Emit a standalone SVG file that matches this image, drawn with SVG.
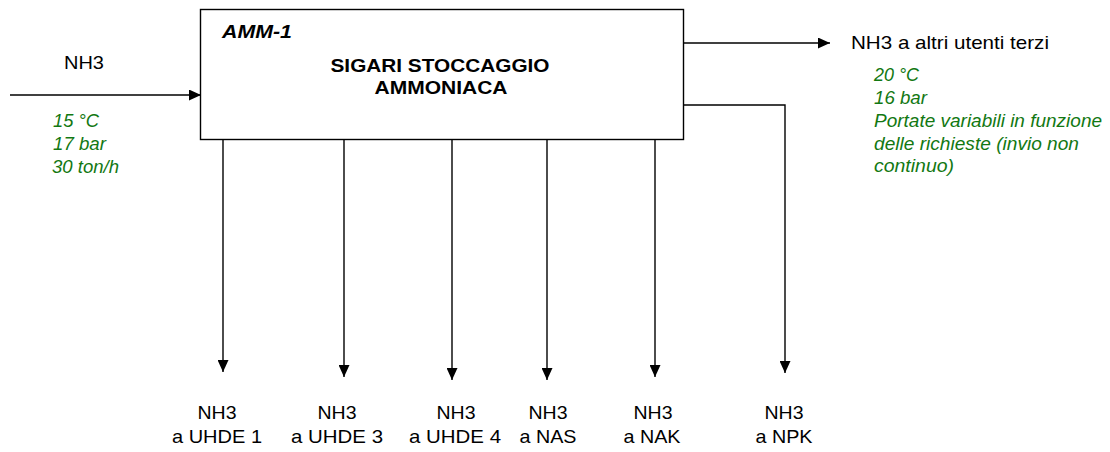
<svg xmlns="http://www.w3.org/2000/svg" width="1110" height="452" viewBox="0 0 1110 452">
<defs>
<marker id="ah" markerWidth="12" markerHeight="11" refX="12" refY="5.5" orient="auto" markerUnits="userSpaceOnUse"><path d="M0,0 L12,5.5 L0,11 Z" fill="#000"/></marker>
</defs>
<style>
.t{font-family:"Liberation Sans",Arial,sans-serif;font-size:19px;fill:#000}
.g{font-family:"Liberation Sans",Arial,sans-serif;font-size:18px;font-style:italic;fill:#127812}
.b{font-weight:bold}
.m{text-anchor:middle}
.c{fill:none;stroke:#000;stroke-width:1.4}
.box{fill:#fff;stroke:#000;stroke-width:1.4}
</style>
<rect width="1110" height="452" fill="#fff"/>
<g id="connectors">
<path class="c" d="M10,95 H201" marker-end="url(#ah)"/>
<path class="c" d="M683.5,43 H830" marker-end="url(#ah)"/>
<path class="c" d="M683.5,105 H785 V373" marker-end="url(#ah)"/>
<path class="c" d="M223,139.5 V372" marker-end="url(#ah)"/>
<path class="c" d="M344,139.5 V377" marker-end="url(#ah)"/>
<path class="c" d="M452,139.5 V380" marker-end="url(#ah)"/>
<path class="c" d="M547,139.5 V380" marker-end="url(#ah)"/>
<path class="c" d="M655,139.5 V377" marker-end="url(#ah)"/>
</g>
<g id="amm1">
<rect class="box" x="200.5" y="9.5" width="483" height="130"/>
<text class="t b" x="222" y="38" font-style="italic" textLength="70" lengthAdjust="spacingAndGlyphs">AMM-1</text>
<text class="t b m" x="440" y="72" textLength="219" lengthAdjust="spacingAndGlyphs">SIGARI STOCCAGGIO</text>
<text class="t b m" x="441" y="94" textLength="133" lengthAdjust="spacingAndGlyphs">AMMONIACA</text>
</g>
<g id="input">
<text class="t" x="64" y="69" textLength="40" lengthAdjust="spacingAndGlyphs">NH3</text>
<text class="g" x="53" y="127" textLength="46" lengthAdjust="spacingAndGlyphs">15 °C</text>
<text class="g" x="53" y="150" textLength="53" lengthAdjust="spacingAndGlyphs">17 bar</text>
<text class="g" x="52" y="173" textLength="67" lengthAdjust="spacingAndGlyphs">30 ton/h</text>
</g>
<g id="out-terzi">
<text class="t" x="851" y="49" textLength="198" lengthAdjust="spacingAndGlyphs">NH3 a altri utenti terzi</text>
<text class="g" x="874" y="81" textLength="45" lengthAdjust="spacingAndGlyphs">20 °C</text>
<text class="g" x="874" y="104" textLength="53" lengthAdjust="spacingAndGlyphs">16 bar</text>
<text class="g" x="874" y="127" textLength="228" lengthAdjust="spacingAndGlyphs">Portate variabili in funzione</text>
<text class="g" x="874" y="150" textLength="205" lengthAdjust="spacingAndGlyphs">delle richieste (invio non</text>
<text class="g" x="874" y="172" textLength="80" lengthAdjust="spacingAndGlyphs">continuo)</text>
</g>
<g id="out-uhde1">
<text class="t m" x="217" y="419" textLength="39" lengthAdjust="spacingAndGlyphs">NH3</text>
<text class="t m" x="217" y="443" textLength="90" lengthAdjust="spacingAndGlyphs">a UHDE 1</text>
</g>
<g id="out-uhde3">
<text class="t m" x="337" y="419" textLength="39" lengthAdjust="spacingAndGlyphs">NH3</text>
<text class="t m" x="337" y="443" textLength="92" lengthAdjust="spacingAndGlyphs">a UHDE 3</text>
</g>
<g id="out-uhde4">
<text class="t m" x="456" y="419" textLength="39" lengthAdjust="spacingAndGlyphs">NH3</text>
<text class="t m" x="455" y="443" textLength="92" lengthAdjust="spacingAndGlyphs">a UHDE 4</text>
</g>
<g id="out-nas">
<text class="t m" x="548" y="419" textLength="39" lengthAdjust="spacingAndGlyphs">NH3</text>
<text class="t m" x="548" y="443" textLength="57" lengthAdjust="spacingAndGlyphs">a NAS</text>
</g>
<g id="out-nak">
<text class="t m" x="653" y="419" textLength="39" lengthAdjust="spacingAndGlyphs">NH3</text>
<text class="t m" x="652" y="443" textLength="57" lengthAdjust="spacingAndGlyphs">a NAK</text>
</g>
<g id="out-npk">
<text class="t m" x="784" y="419" textLength="39" lengthAdjust="spacingAndGlyphs">NH3</text>
<text class="t m" x="784" y="443" textLength="57" lengthAdjust="spacingAndGlyphs">a NPK</text>
</g>
</svg>
